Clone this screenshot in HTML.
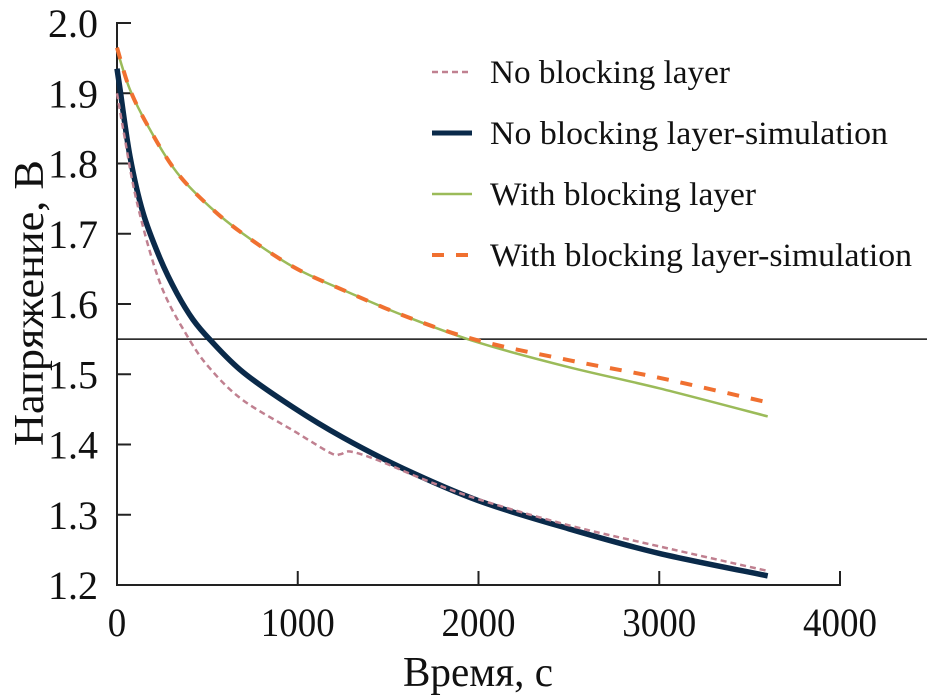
<!DOCTYPE html>
<html><head><meta charset="utf-8"><style>
html,body{margin:0;padding:0;background:#fff}
svg{display:block;font-family:"Liberation Serif",serif}
</style></head><body>
<svg id="c" width="927" height="695" viewBox="0 0 927 695"></svg>
<script>
const xTicks=[0,1000,2000,3000,4000];
const yTicks=[1.2,1.3,1.4,1.5,1.6,1.7,1.8,1.9,2.0];
const yTickLabels=["1.2","1.3","1.4","1.5","1.6","1.7","1.8","1.9","2.0"];
const tNoBlk=[0,35,110,238,387,515,697,974,1180,1235,1290,1440,1700,2000,2500,3000,3600];
const vNoBlk=[1.90,1.848,1.745,1.63,1.555,1.508,1.463,1.42,1.388,1.386,1.390,1.378,1.35,1.322,1.285,1.255,1.22];
const tNoBlkSim=[0,17,72,144,238,332,420,515,697,974,1250,1582,2000,2500,3000,3600];
const vNoBlkSim=[1.935,1.905,1.81,1.73,1.665,1.615,1.578,1.549,1.503,1.453,1.41,1.366,1.32,1.28,1.245,1.213];
const tBlk=[0,72,183,332,515,697,974,1250,1621,2000,2500,3000,3600];
const vBlk=[1.962,1.905,1.848,1.787,1.738,1.70,1.653,1.62,1.58,1.545,1.51,1.48,1.44];
const tBlkSim=[0,72,183,332,515,697,974,1250,1621,2000,2500,3000,3600];
const vBlkSim=[1.965,1.905,1.848,1.787,1.738,1.70,1.653,1.62,1.58,1.548,1.52,1.495,1.46];
const refV=1.55;
const NS="http://www.w3.org/2000/svg";
const svg=document.getElementById('c');
const X=t=>117+t*(723/4000);
const Y=v=>585-(v-1.2)*(562/0.8);
function mk(tag,attrs,parent){const e=document.createElementNS(NS,tag);for(const k in attrs)e.setAttribute(k,attrs[k]);(parent||svg).appendChild(e);return e;}
let ax=mk('path',{d:`M${X(0)+14} ${Y(2)} H${X(0)} V${Y(1.2)} H${X(4000)} V${Y(1.2)-14}`,fill:'none',stroke:'#222','stroke-width':2});


yTicks.forEach((v,i)=>{
 const l=mk('line',{x1:X(0),x2:X(0)+14,y1:Y(v),y2:Y(v),stroke:'#222','stroke-width':2});
 
 
 const t=mk('text',{x:98,y:Y(v)+14,'text-anchor':'end','font-size':40,fill:'#111',textLength:50,lengthAdjust:'spacingAndGlyphs'});
 t.textContent=yTickLabels[i];
 
 
});
xTicks.forEach(v=>{
 if(v>0&&v<4000){const l=mk('line',{x1:X(v),x2:X(v),y1:Y(1.2),y2:Y(1.2)-14,stroke:'#222','stroke-width':2});
 
 }
 const w=String(v).length*18.5;
 const t=mk('text',{x:X(v)-w/2,y:636,'font-size':40,fill:'#111',textLength:w,lengthAdjust:'spacingAndGlyphs'});
 t.textContent=String(v);
 
 
});
let xt=mk('text',{x:403,y:686,'font-size':42,fill:'#111',textLength:150,lengthAdjust:'spacingAndGlyphs'});xt.textContent='Время, с';


let yt=mk('text',{x:0,y:0,'font-size':42,fill:'#111',transform:'translate(43,446) rotate(-90)',textLength:286,lengthAdjust:'spacingAndGlyphs'});yt.textContent='Напряжение, В';


let rl=mk('line',{x1:X(0),x2:927,y1:Y(refV),y2:Y(refV),stroke:'#111','stroke-width':1.6});


function series(ts,vs,st,name){
 const P=ts.map((t,i)=>[X(t),Y(vs[i])]);
 let d='M'+P[0][0].toFixed(1)+' '+P[0][1].toFixed(1);
 for(let i=0;i<P.length-1;i++){
  const p0=P[Math.max(0,i-1)],p1=P[i],p2=P[i+1],p3=P[Math.min(P.length-1,i+2)];
  const c1=[p1[0]+(p2[0]-p0[0])/6,p1[1]+(p2[1]-p0[1])/6];
  const c2=[p2[0]-(p3[0]-p1[0])/6,p2[1]-(p3[1]-p1[1])/6];
  d+=` C${c1[0].toFixed(1)} ${c1[1].toFixed(1)} ${c2[0].toFixed(1)} ${c2[1].toFixed(1)} ${p2[0].toFixed(1)} ${p2[1].toFixed(1)}`;
 }
 const p=mk('path',Object.assign({d,fill:'none','stroke-linejoin':'round'},st));
 
 
}
series(tBlk,vBlk,{stroke:'#9bbb59','stroke-width':2.5},'series-with-blocking');
series(tBlkSim,vBlkSim,{stroke:'#f07030','stroke-width':4,'stroke-dasharray':'12 12'},'series-with-blocking-sim');
series(tNoBlkSim,vNoBlkSim,{stroke:'#0a2a4a','stroke-width':5.5},'series-no-blocking-sim');
series(tNoBlk,vNoBlk,{stroke:'#c08090','stroke-width':2.5,'stroke-dasharray':'6 4'},'series-no-blocking');
const legendLabels=["No blocking layer","No blocking layer-simulation","With blocking layer","With blocking layer-simulation"];
const legendWidths=[240,398,266,422];
const legendStyles=[{stroke:'#c08090','stroke-width':2.5,'stroke-dasharray':'6 4'},{stroke:'#0a2a4a','stroke-width':5},{stroke:'#9bbb59','stroke-width':2.5},{stroke:'#f07030','stroke-width':4,'stroke-dasharray':'12 12'}];
const g=mk('g',{});


legendLabels.forEach((s,i)=>{
 const y=72+i*61;
 const l=mk('line',Object.assign({x1:432,x2:472,y1:y,y2:y},legendStyles[i]),g);
 
 
 const t=mk('text',{x:490,y:y+11,'font-size':33,fill:'#111',textLength:legendWidths[i],lengthAdjust:'spacingAndGlyphs'},g);
 t.textContent=s;
 
 
});
</script>
</body></html>
